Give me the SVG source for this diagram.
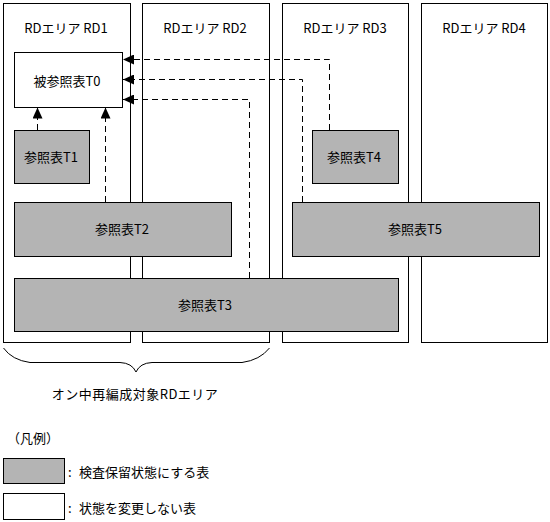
<svg xmlns="http://www.w3.org/2000/svg" width="550" height="522" viewBox="0 0 550 522">
<style>
  text { font-family: "Noto Sans CJK JP", "Noto Sans", sans-serif; font-size: 13px; fill: #000; dominant-baseline: central; }
  .c { text-anchor: middle; }
  .area { fill: #fff; stroke: #000; stroke-width: 1; }
  .gray { fill: #b4b4b4; stroke: #000; stroke-width: 1; }
  .white { fill: #fff; stroke: #000; stroke-width: 1; }
  .conn { fill: none; stroke: #000; stroke-width: 1; stroke-dasharray: 6 4; }
  .brace { fill: none; stroke: #000; stroke-width: 1; }
</style>
<defs>
  <marker id="arr" markerUnits="userSpaceOnUse" markerWidth="12" markerHeight="10" refX="11" refY="5" orient="auto">
    <path d="M0,0 L11,5 L0,10 Z" fill="#000"/>
  </marker>
</defs>
<rect width="550" height="522" fill="#fff"/>

<g id="rd1">
  <rect class="area" x="3.5" y="3.5" width="127" height="339"/>
  <text class="c" x="66" y="27">RDエリア RD1</text>
</g>
<g id="rd2">
  <rect class="area" x="142.5" y="3.5" width="127" height="339"/>
  <text class="c" x="205" y="27">RDエリア RD2</text>
</g>
<g id="rd3">
  <rect class="area" x="282.5" y="3.5" width="126" height="339"/>
  <text class="c" x="345" y="27">RDエリア RD3</text>
</g>
<g id="rd4">
  <rect class="area" x="421.5" y="3.5" width="126" height="339"/>
  <text class="c" x="484" y="27">RDエリア RD4</text>
</g>

<g id="t0">
  <rect class="white" x="14.5" y="52.5" width="108" height="55"/>
  <text class="c" x="67" y="80">被参照表T0</text>
</g>
<g id="t1">
  <rect class="gray" x="14.5" y="130.5" width="75" height="53"/>
  <text class="c" x="51" y="156">参照表T1</text>
</g>
<g id="t4">
  <rect class="gray" x="312.5" y="130.5" width="86" height="53"/>
  <text class="c" x="354" y="156">参照表T4</text>
</g>
<g id="t2">
  <rect class="gray" x="14.5" y="202.5" width="217" height="54"/>
  <text class="c" x="122" y="228">参照表T2</text>
</g>
<g id="t5">
  <rect class="gray" x="292.5" y="202.5" width="247" height="54"/>
  <text class="c" x="415" y="228">参照表T5</text>
</g>
<g id="t3">
  <rect class="gray" x="14.5" y="278.5" width="384" height="53"/>
  <text class="c" x="205" y="304">参照表T3</text>
</g>

<g id="connectors">
  <path class="conn" d="M37.5,130 V107.5" marker-end="url(#arr)"/>
  <path class="conn" d="M105.5,202 V107.5" marker-end="url(#arr)"/>
  <path class="conn" d="M329.5,130 V59.5 H123" marker-end="url(#arr)"/>
  <path class="conn" d="M302.5,202 V79.5 H123" marker-end="url(#arr)"/>
  <path class="conn" d="M249.5,278 V99.5 H123" marker-end="url(#arr)"/>
</g>

<g id="brace">
  <path class="brace" d="M3.5,348 Q12,360 30,362.5 H120 Q132,363 136,372 Q140,363 152,362.5 H242 Q260,360 269.5,348"/>
  <text class="c" x="135" y="393" letter-spacing="0.5">オン中再編成対象RDエリア</text>
</g>

<g id="legend">
  <text x="7" y="437">（凡例）</text>
  <rect class="gray" x="3.5" y="458.5" width="61" height="25"/>
  <text x="68" y="471">: <tspan x="79">検査保留状態にする表</tspan></text>
  <rect class="white" x="3.5" y="493.5" width="61" height="26"/>
  <text x="68" y="507">: <tspan x="79">状態を変更しない表</tspan></text>
</g>
</svg>
